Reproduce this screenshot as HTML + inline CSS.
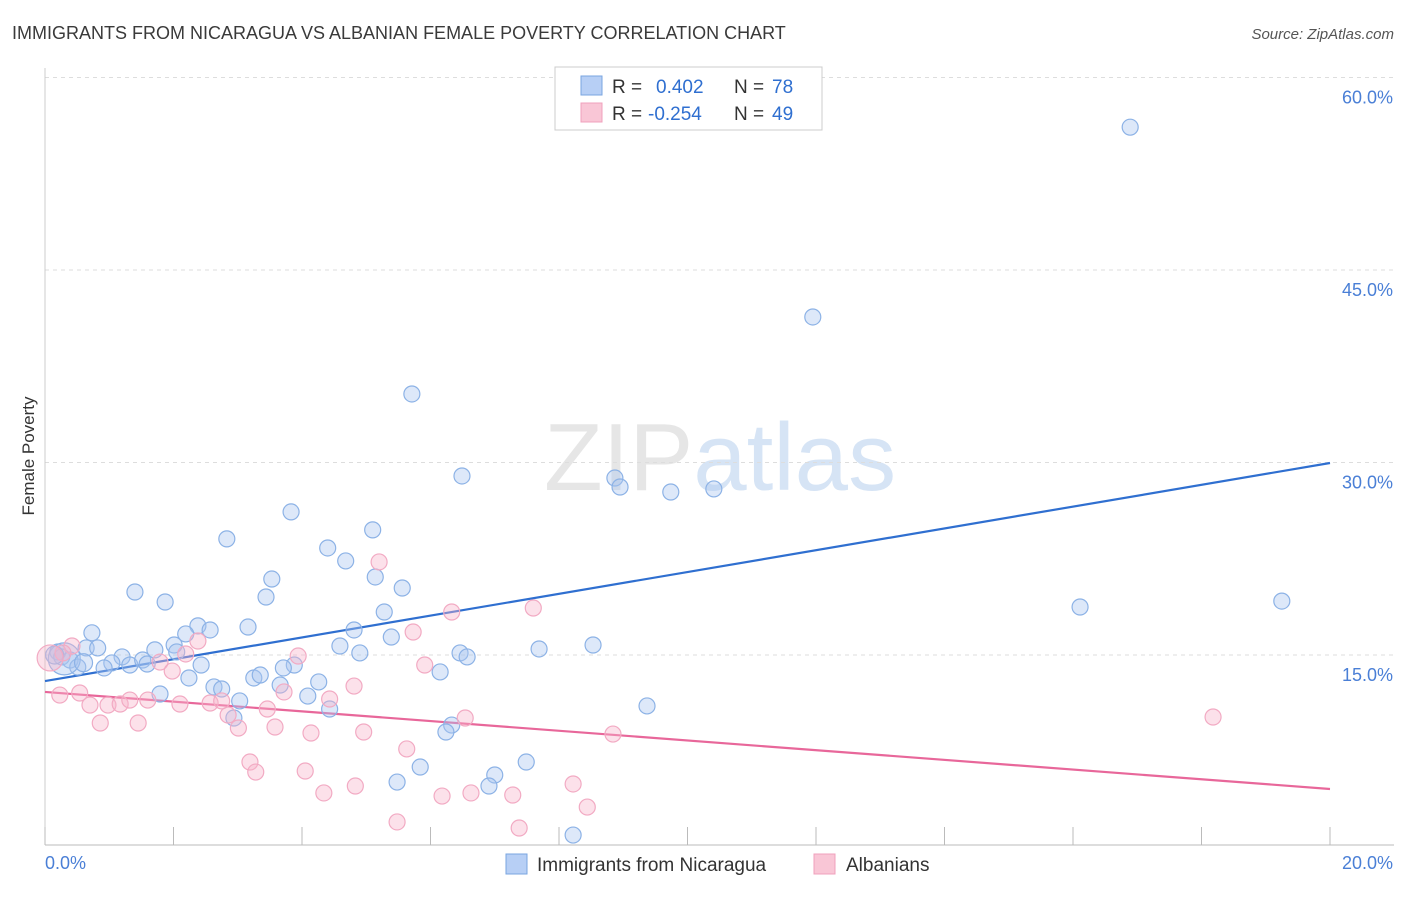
<!DOCTYPE html>
<html><head><meta charset="utf-8">
<style>
body{margin:0;background:#fff;font-family:"Liberation Sans",sans-serif;}
svg text{font-family:"Liberation Sans",sans-serif;}
</style></head>
<body>
<svg id="chart" width="1406" height="892" xmlns="http://www.w3.org/2000/svg">
<text x="12" y="39" font-size="18" fill="#3a3a3a">IMMIGRANTS FROM NICARAGUA VS ALBANIAN FEMALE POVERTY CORRELATION CHART</text>
<text x="1394" y="39" font-size="15" fill="#555" text-anchor="end" font-style="italic">Source: ZipAtlas.com</text>
<text x="720" y="490" font-size="96" text-anchor="middle" fill="#e6e6e6" font-family="Liberation Serif">ZIP<tspan fill="#d6e4f5" font-family="Liberation Sans">atlas</tspan></text>
<text transform="translate(34,456) rotate(-90)" font-size="17" fill="#333" text-anchor="middle">Female Poverty</text>
<g id="grid"></g>
<g id="axes"></g>
<g id="trend"></g>
<g id="points"></g>
<g>
<rect x="555" y="67" width="267" height="63" fill="#fff" stroke="#ccc"/>
<rect x="581" y="76" width="21" height="19" fill="#b7cff5" stroke="#7aa5e0"/>
<rect x="581" y="103" width="21" height="19" fill="#f9c6d6" stroke="#f0a0bc"/>
<text x="612" y="93" font-size="19" fill="#333">R = <tspan fill="#2f6fd0" x="656">0.402</tspan><tspan x="734" fill="#333">N = </tspan><tspan fill="#2f6fd0" x="772">78</tspan></text>
<text x="612" y="120" font-size="19" fill="#333">R = <tspan fill="#2f6fd0" x="648">-0.254</tspan><tspan x="734" fill="#333">N = </tspan><tspan fill="#2f6fd0" x="772">49</tspan></text>
</g>
<g>
<rect x="506" y="854" width="21" height="20" fill="#b7cff5" stroke="#7aa5e0"/>
<text x="537" y="871" font-size="19" fill="#333">Immigrants from Nicaragua</text>
<rect x="814" y="854" width="21" height="20" fill="#f9c6d6" stroke="#f0a0bc"/>
<text x="846" y="871" font-size="19" fill="#333">Albanians</text>
</g>
</svg>
<script>
const xTicks=[0,2,4,6,8,10,12,14,16,18,20];
const yTicks=[15,30,45,60];
const yTickLabels=["15.0%","30.0%","45.0%","60.0%"];
const xEndLabels=["0.0%","20.0%"];
const blueX=[16.89,11.95,5.71,6.49,8.87,8.95,9.74,10.41,3.83,2.83,5.10,4.40,4.68,5.14,3.53,5.56,1.40,3.44,1.87,5.28,16.11,19.25,0.73,2.38,2.57,3.16,4.81,2.19,5.39,0.64,0.82,1.71,2.01,4.59,7.69,8.53,6.46,6.57,4.90,0.20,0.26,0.39,0.51,1.20,1.04,0.92,1.32,1.52,1.59,2.05,2.43,3.88,3.71,6.15,2.24,3.25,3.35,4.26,3.66,2.63,2.75,1.79,3.03,4.09,4.43,9.37,2.94,6.33,6.24,5.84,5.48,7.00,6.91,7.49,8.22,0.30,0.15,0.60];
const blueY=[56.13,41.34,35.34,28.95,28.79,28.09,27.70,27.94,26.15,24.05,24.75,23.34,22.33,21.08,20.92,20.22,19.91,19.52,19.13,18.35,18.74,19.20,16.73,17.27,16.95,17.18,16.95,16.64,16.40,15.55,15.55,15.40,15.78,15.70,15.47,15.78,15.16,14.85,15.16,15.24,14.85,14.61,14.06,14.85,14.38,13.99,14.22,14.61,14.30,15.24,14.22,14.22,13.99,13.68,13.21,13.21,13.44,12.90,12.66,12.51,12.35,11.96,11.42,11.80,10.79,11.03,10.09,9.54,9.00,6.27,5.10,5.65,4.79,6.66,0.97,14.70,15.00,14.40];
const pinkX=[0.42,0.28,1.79,2.19,2.38,1.98,3.94,5.73,6.33,7.60,5.20,5.91,0.54,0.23,0.70,0.98,1.17,1.32,1.60,2.10,2.57,2.75,3.72,4.43,4.81,3.46,2.85,0.86,1.45,3.01,3.58,4.14,4.96,6.54,8.84,18.18,5.63,3.19,3.28,4.05,4.34,4.83,6.18,6.63,7.28,8.22,8.44,5.48,7.38];
const pinkY=[15.70,15.16,14.45,15.08,16.09,13.75,14.92,16.79,18.35,18.66,22.25,14.22,12.04,11.88,11.10,11.10,11.18,11.49,11.49,11.18,11.26,11.42,12.12,11.57,12.58,10.79,10.32,9.70,9.70,9.31,9.39,8.92,9.00,10.09,8.84,10.17,7.68,6.66,5.88,5.96,4.25,4.79,4.01,4.25,4.09,4.95,3.15,1.99,1.52];
const trendBlue=[12.97,29.96];
const trendPink=[12.12,4.56];
const NS="http://www.w3.org/2000/svg";
const X=v=>45+v/20*1285;
const Y=v=>847.5-v/15*192.5;
function mk(tag,attrs,parent){const e=document.createElementNS(NS,tag);for(const k in attrs)e.setAttribute(k,attrs[k]);parent.appendChild(e);return e;}
const grid=document.getElementById('grid'),axes=document.getElementById('axes');
yTicks.forEach((t,i)=>{
 const l=mk('line',{x1:45,x2:1394,y1:Y(t),y2:Y(t),stroke:'#ddd','stroke-dasharray':'4,4'},grid);
 
 
 const tx=mk('text',{x:1393,y:Y(t)+26,'font-size':18,fill:'#4a7fd6','text-anchor':'end'},axes);
 tx.textContent=yTickLabels[i];
 
 
});
const al=mk('line',{x1:45,x2:1394,y1:845,y2:845,stroke:'#bbb'},axes);


const yl=mk('line',{x1:45,x2:45,y1:68,y2:845,stroke:'#ccc'},axes);


xTicks.forEach(t=>{
 const l=mk('line',{x1:X(t),x2:X(t),y1:827,y2:845,stroke:'#bbb'},axes);
 
 
});
[[0,'start'],[20,'end']].forEach((p,i)=>{
 const tx=mk('text',{x:X(p[0])+(i?63:0),y:869,'font-size':18,fill:'#4a7fd6','text-anchor':i?'end':'start'},axes);
 tx.textContent=xEndLabels[i];
 
 
});
const trend=document.getElementById('trend');
const tb=mk('line',{x1:X(0),y1:Y(trendBlue[0]),x2:X(20),y2:Y(trendBlue[1]),stroke:'#2f6fd0','stroke-width':2.2},trend);


const tp=mk('line',{x1:X(0),y1:Y(trendPink[0]),x2:X(20),y2:Y(trendPink[1]),stroke:'#e8679a','stroke-width':2.2},trend);


const pts=document.getElementById('points');
blueX.forEach((x,i)=>{
 const r=(i>=75)?(i==75?16:9):8;
 const c=mk('circle',{cx:X(x),cy:Y(blueY[i]),r:r,fill:'rgba(170,198,240,0.4)',stroke:'#8cb2e6','stroke-width':1.2},pts);
 
 
});
pinkX.forEach((x,i)=>{
 const c=mk('circle',{cx:X(x),cy:Y(pinkY[i]),r:8,fill:'rgba(247,180,202,0.4)',stroke:'#f2aac3','stroke-width':1.2},pts);
 
 
});
const big=mk('circle',{cx:X(0.08),cy:Y(14.77),r:13,fill:'rgba(247,180,202,0.4)',stroke:'#f2aac3','stroke-width':1.2},pts);


</script>
</body></html>
